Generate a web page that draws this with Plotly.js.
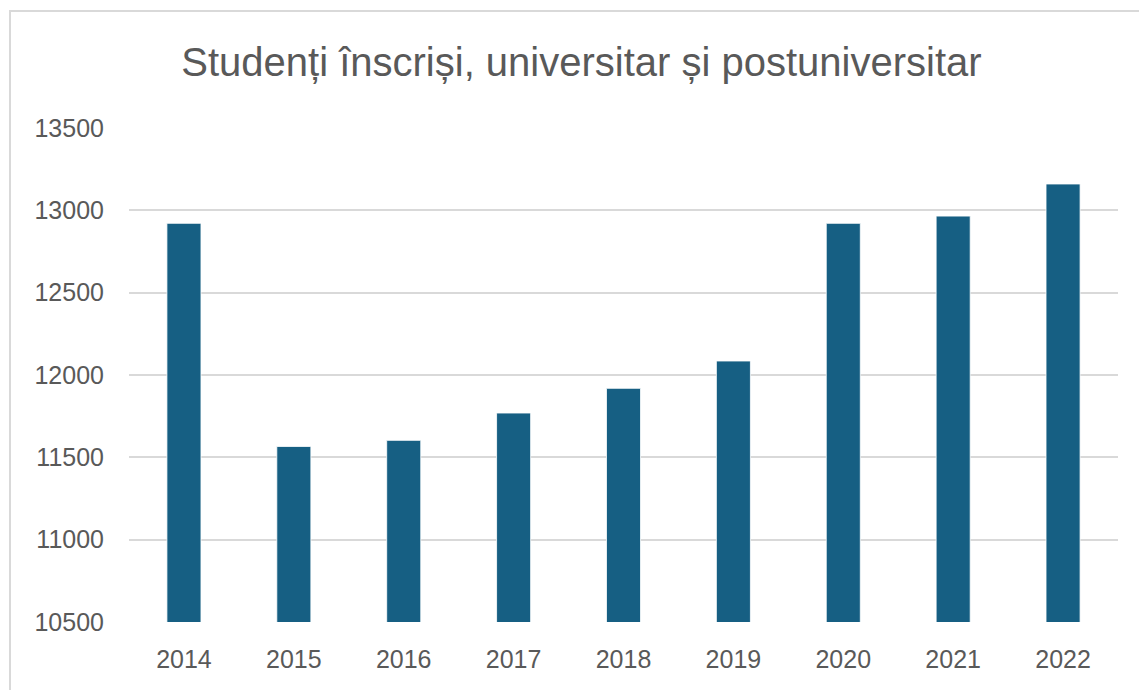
<!DOCTYPE html>
<html>
<head>
<meta charset="utf-8">
<script src="https://cdn.plot.ly/plotly-3.0.1.min.js"></script>
<style>
  html, body { margin: 0; padding: 0; background: #fff; overflow: hidden; }
  #chart { width: 1139px; height: 690px; position: absolute; left: 0; top: 0; }
  #frame { position: absolute; left: 9px; top: 10px; width: 1200px; height: 760px;
           border: 2px solid #d9d9d9; pointer-events: none; }
</style>
</head>
<body>
<div id="chart"></div>
<div id="frame"></div>
<script>
const years = ['2014', '2015', '2016', '2017', '2018', '2019', '2020', '2021', '2022'];
const students = [12921, 11566, 11603, 11769, 11919, 12085, 12921, 12965, 13160];
const yTicks = [10500, 11000, 11500, 12000, 12500, 13000, 13500];
const chartTitle = 'Studenți înscriși, universitar și postuniversitar';

const trace = {
  type: 'bar',
  x: years,
  y: students,
  marker: { color: '#165f83', line: { color: '#ffffff', width: 0.8 } },
  hoverinfo: 'x+y'
};

const layout = {
  width: 1139,
  height: 690,
  margin: { l: 129, r: 21, t: 128, b: 68 },
  paper_bgcolor: 'rgba(0,0,0,0)',
  plot_bgcolor: 'rgba(0,0,0,0)',
  showlegend: false,
  bargap: 0.69,
  font: { family: 'Liberation Sans, Arial, sans-serif', color: '#595959' },
  title: {
    text: chartTitle,
    font: { family: 'Liberation Sans, Arial, sans-serif', size: 40, color: '#595959' },
    xref: 'paper', x: 0.4575, xanchor: 'center',
    yref: 'container', y: 0.91, yanchor: 'middle'
  },
  xaxis: {
    type: 'category',
    showgrid: false,
    showline: false,
    zeroline: false,
    ticks: '',
    ticklabelstandoff: 20,
    tickfont: { size: 25, color: '#595959' }
  },
  yaxis: {
    range: [10500, 13500],
    tickvals: yTicks,
    ticktext: yTicks.map(String),
    showgrid: true,
    gridcolor: '#d9d9d9',
    gridwidth: 2,
    showline: false,
    zeroline: false,
    ticks: '',
    ticklabelstandoff: 24,
    tickfont: { size: 25, color: '#595959' }
  }
};

Plotly.newPlot('chart', [trace], layout, { displayModeBar: false, staticPlot: true });
</script>
</body>
</html>
